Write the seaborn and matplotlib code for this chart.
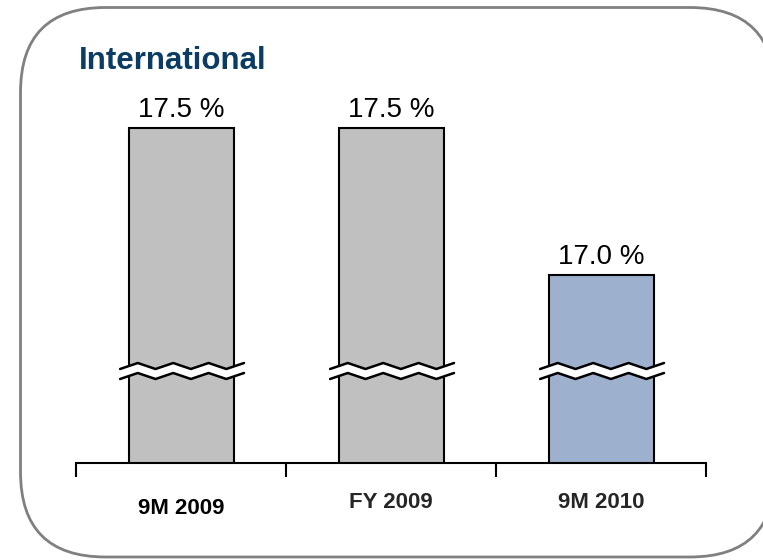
import matplotlib
matplotlib.use("Agg")
import matplotlib.pyplot as plt
import seaborn as sns
import numpy as np
import pandas as pd
from matplotlib.patches import FancyBboxPatch
from matplotlib.transforms import blended_transform_factory

categories = ["9M 2009", "FY 2009", "9M 2010"]
values = [17.5, 17.5, 17.0]
value_labels = ["17.5 %", "17.5 %", "17.0 %"]
colors = ["#C0C0C0", "#C0C0C0", "#9DB0CE"]
title = "International"

sns.set_theme(style="white")
plt.rcParams['font.family'] = ['Liberation Sans', 'DejaVu Sans']

W, H = 763, 560
fig = plt.figure(figsize=(W / 100, H / 100), dpi=100)

# background axes in pixel units for the rounded frame
bg = fig.add_axes([0, 0, 1, 1], zorder=-1)
bg.set_xlim(0, W)
bg.set_ylim(H, 0)
bg.axis("off")
frame = FancyBboxPatch((20.5, 7.5), 775 - 20.5, 557 - 7.5,
                       boxstyle="round,pad=0,rounding_size=85",
                       facecolor="white", edgecolor="#808080", linewidth=2,
                       clip_on=False)
bg.add_patch(frame)

ax = fig.add_axes([76 / W, 1 - 463 / H, (706 - 76) / W, (463 - 90) / H])
ax.set_facecolor("none")

df = pd.DataFrame({"cat": categories, "val": values})
sns.barplot(data=df, x="cat", y="val", hue="cat", palette=colors, legend=False,
            width=0.5, edgecolor="black", linewidth=1.5, ax=ax, saturation=1)

ymin = 17.5 - 335 / 294
ymax = ymin + 373 / 294
ax.set_ylim(ymin, ymax)
ax.set_xlim(-0.5, 2.5)

for s in ["top", "right", "left"]:
    ax.spines[s].set_visible(False)
ax.spines["bottom"].set_color("black")
ax.spines["bottom"].set_linewidth(1.5)
ax.set_yticks([])
ax.set_xticks(np.arange(len(categories) + 1) - 0.5)
ax.set_xticklabels([])
ax.tick_params(axis="x", direction="out", length=10, width=1.5, color="black", bottom=True)
ax.set_xlabel("")
ax.set_ylabel("")

# value labels
for p, lab in zip(ax.patches, value_labels):
    ax.annotate(lab, (p.get_x() + p.get_width() / 2, p.get_height()),
                xytext=(0, 11), textcoords="offset pixels", ha="center",
                va="baseline", fontsize=20, color="black", annotation_clip=False)

# category labels
trans = blended_transform_factory(ax.transData, fig.transFigure)
label_y = [508, 502, 502]
label_colors = ["black", "#262626", "#262626"]
for i, (c, yy, lc) in enumerate(zip(categories, label_y, label_colors)):
    ax.text(i, 1 - yy / H, c, transform=trans, ha="center", va="center",
            fontsize=16, fontweight="bold", color=lc)

# break marks
btrans = blended_transform_factory(ax.transData, ax.transAxes)
px = 1 / 373
for p in ax.patches:
    x0 = p.get_x() - 0.04
    x1 = p.get_x() + p.get_width() + 0.05
    n = 7
    xs = np.linspace(x0, x1, n + 1)
    amp = np.array([(-1) ** (k + 1) for k in range(n + 1)]) * 3 * px
    yu = (463 - 366) * px + amp
    yl = (463 - 376) * px + amp
    ax.fill_between(xs, yl, yu, transform=btrans, color="white", zorder=5, clip_on=False, linewidth=0)
    ax.plot(xs, yu, transform=btrans, color="black", lw=1.8, zorder=6, clip_on=False)
    ax.plot(xs, yl, transform=btrans, color="black", lw=1.8, zorder=6, clip_on=False)

fig.text(79 / W, 1 - 69 / H, title, ha="left", va="baseline", fontsize=22.5,
         fontweight="bold", color="#0B3C64")

fig.savefig("out.png", dpi=100)
